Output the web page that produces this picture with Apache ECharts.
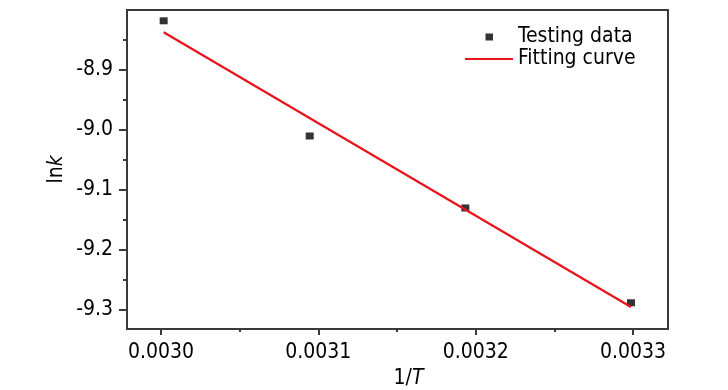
<!DOCTYPE html>
<html>
<head>
<meta charset="utf-8">
<script src="https://cdn.jsdelivr.net/npm/echarts@6/dist/echarts.min.js"></script>
<style>
html,body{margin:0;padding:0;background:#fff;}
#main{width:728px;height:390px;}
</style>
</head>
<body>
<div id="main"></div>
<script>
// Data
const testX = [0.0030017, 0.0030945, 0.0031934, 0.0032987];
const testY = [-8.818, -9.010, -9.130, -9.288];
const fitX = [0.0030017, 0.0032987];
const fitY = [-8.837, -9.295];
const xTicks = [0.0030, 0.0031, 0.0032, 0.0033];
const xMinorTicks = [0.00305, 0.00315, 0.00325];
const yTicks = [-9.3, -9.2, -9.1, -9.0, -8.9];
const yMinorTicks = [-9.25, -9.15, -9.05, -8.95, -8.85];
const seriesNames = ['Testing data', 'Fitting curve'];

const FONT = '"Liberation Sans Narrow", "DejaVu Sans Condensed", "Liberation Sans", Arial, sans-serif';
const AXIS_COLOR = '#3a3a3a';
const FS = 21;

const chart = echarts.init(document.getElementById('main'), null, {renderer: 'canvas'});

const xMin = 0.0029784, xMax = 0.0033222;
const yMin = -9.3317, yMax = -8.8;

chart.setOption({
  animation: false,
  backgroundColor: '#fff',
  textStyle: {fontFamily: FONT},
  grid: {
    left: 127, right: 60, top: 10, bottom: 61,
    outerBoundsMode: 'none',
    containLabel: false,
    show: true, borderColor: AXIS_COLOR, borderWidth: 2, backgroundColor: 'transparent'
  },
  legend: {
    orient: 'vertical',
    left: 465, top: 26,
    padding: 0,
    itemWidth: 48, itemHeight: 7, itemGap: 0,
    textStyle: {fontFamily: FONT, fontSize: FS, color: '#000', lineHeight: 22},
    data: [
      {name: seriesNames[0], icon: 'path://M0,0M48,7M20.5,0h7.5v7h-7.5z'},
      {name: seriesNames[1], icon: 'path://M0,0M48,7M0,2.4h48v2.2h-48z'}
    ]
  },
  xAxis: [{
    type: 'value',
    min: xMin, max: xMax,
    position: 'bottom',
    name: '{n|1/}{i|T}',
    nameLocation: 'middle',
    nameGap: 39,
    nameTextStyle: {
      padding: [0, 0, 0, 22],
      rich: {
        n: {fontFamily: FONT, fontSize: FS, color: '#000'},
        i: {fontFamily: FONT, fontSize: FS, color: '#000', fontStyle: 'italic'}
      }
    },
    splitLine: {show: false},
    axisLine: {show: true, onZero: false, lineStyle: {color: AXIS_COLOR, width: 2}},
    axisTick: {show: true, length: 6, customValues: xTicks, lineStyle: {color: AXIS_COLOR, width: 2}},
    axisLabel: {
      customValues: xTicks,
      margin: 13,
      color: '#000', fontFamily: FONT, fontSize: FS,
      formatter: v => v.toFixed(4)
    }
  }, {
    type: 'value',
    min: xMin, max: xMax,
    position: 'bottom',
    splitLine: {show: false},
    axisLine: {show: false},
    axisTick: {show: true, length: 3, customValues: xMinorTicks, lineStyle: {color: AXIS_COLOR, width: 2}},
    axisLabel: {show: false}
  }],
  yAxis: [{
    type: 'value',
    min: yMin, max: yMax,
    position: 'left',
    name: '{n|ln}{i|k}',
    nameLocation: 'middle',
    nameGap: 60,
    nameMoveOverlap: false,
    nameRotate: 90,
    nameTextStyle: {
      rich: {
        n: {fontFamily: FONT, fontSize: FS, color: '#000'},
        i: {fontFamily: FONT, fontSize: FS, color: '#000', fontStyle: 'italic'}
      }
    },
    splitLine: {show: false},
    axisLine: {show: true, onZero: false, lineStyle: {color: AXIS_COLOR, width: 2}},
    axisTick: {show: true, length: 8, customValues: yTicks, lineStyle: {color: AXIS_COLOR, width: 2}},
    axisLabel: {
      customValues: yTicks,
      margin: 14,
      color: '#000', fontFamily: FONT, fontSize: FS,
      formatter: v => v.toFixed(1)
    }
  }, {
    type: 'value',
    min: yMin, max: yMax,
    position: 'left',
    splitLine: {show: false},
    axisLine: {show: false},
    axisTick: {show: true, length: 4, customValues: yMinorTicks, lineStyle: {color: AXIS_COLOR, width: 2}},
    axisLabel: {show: false}
  }],
  series: [{
    name: seriesNames[0],
    type: 'scatter',
    symbol: 'rect',
    symbolSize: [8, 7],
    itemStyle: {color: '#000'},
    data: testX.map((x, i) => [x, testY[i]])
  }, {
    name: seriesNames[1],
    type: 'line',
    showSymbol: false,
    symbol: 'none',
    lineStyle: {color: '#e8141b', width: 2.2},
    itemStyle: {color: '#e8141b'},
    data: fitX.map((x, i) => [x, fitY[i]])
  }]
});
</script>
</body>
</html>
